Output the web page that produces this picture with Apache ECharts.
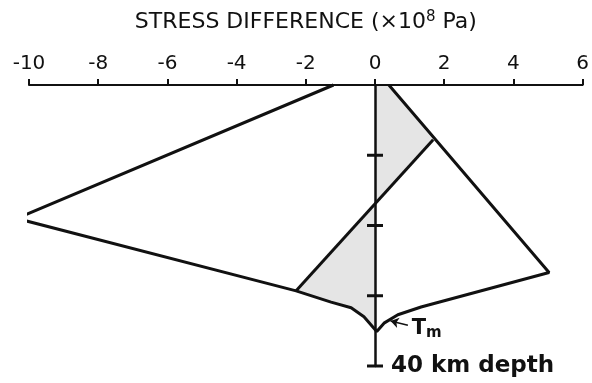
<!DOCTYPE html>
<html>
<head>
<meta charset="UTF-8">
<title>Stress difference vs depth</title>
<script src="https://cdn.jsdelivr.net/npm/echarts@6/dist/echarts.min.js"></script>
<style>
  html, body { margin: 0; padding: 0; background: #fff; }
  #main { width: 592px; height: 383px; }
</style>
</head>
<body>
<div id="main"></div>
<script>
// stress difference (x10^8 Pa) vs depth (km)
var envelope = [[-1.2, 0], [-10.35, 19], [-2.28, 29.3], [-1.27, 30.9], [-0.69, 31.7],
  [-0.32, 33.0], [0.05, 35.1], [0.26, 33.9], [0.66, 32.7], [1.33, 31.6], [5.03, 26.7], [0.4, 0]];
var faultLine = [[1.68, 7.8], [-2.28, 29.3]];
var shadedUpper = [[0, 0], [0.4, 0], [1.68, 7.8], [0, 16.9]];
var shadedLower = [[0, 16.9], [-2.28, 29.3], [-1.27, 30.9], [-0.69, 31.7], [-0.32, 33.0], [0.05, 35.1], [0, 35.1]];
var depthTicks = [10, 20, 30, 40];
var tmArrow = [[0.95, 34.2], [0.45, 33.6]];
var tmLabel = [[1.0, 34.6]];

var font = 'DejaVu Sans';
var ink = '#111';
var myChart = echarts.init(document.getElementById('main'));

function polygonItem(points) {
  return function (params, api) {
    var pts = points.map(function (p) { return api.coord(p); });
    return {
      type: 'polygon',
      shape: { points: pts },
      style: { fill: 'rgba(0,0,0,0.10)', stroke: 'none' }
    };
  };
}

var option = {
  animation: false,
  grid: { left: 29, right: 9, top: 85, bottom: 17 },
  xAxis: {
    type: 'value',
    position: 'top',
    min: -10, max: 6, interval: 2,
    name: 'STRESS DIFFERENCE (\u00d710{sup|8} Pa)',
    nameLocation: 'middle',
    nameGap: 50,
    nameTextStyle: {
      fontFamily: font, fontSize: 22, color: ink,
      rich: { sup: { fontFamily: font, fontSize: 15, verticalAlign: 'top', padding: [0, 0, 10, 0], color: ink } }
    },
    axisLine: { show: true, lineStyle: { color: ink, width: 2 } },
    axisTick: { show: true, length: 6, lineStyle: { color: ink, width: 2 } },
    axisLabel: { fontFamily: font, fontSize: 20, color: ink, margin: 11,
      formatter: function (v) { return v < 0 ? '-' + Math.abs(v) : String(v); } },
    splitLine: { show: false }
  },
  yAxis: {
    type: 'value',
    inverse: true,
    min: 0, max: 40,
    axisLine: { show: true, onZero: true, lineStyle: { color: ink, width: 2.5 } },
    axisTick: { show: false },
    axisLabel: { show: false },
    splitLine: { show: false }
  },
  series: [
    { type: 'custom', renderItem: polygonItem(shadedUpper), data: [0], silent: true, clip: false, z: 1 },
    { type: 'custom', renderItem: polygonItem(shadedLower), data: [0], silent: true, clip: false, z: 1 },
    {
      type: 'line', data: envelope, symbol: 'none', clip: false,
      lineStyle: { color: ink, width: 3 }, z: 3
    },
    {
      type: 'line', data: faultLine, symbol: 'none', clip: false,
      lineStyle: { color: ink, width: 3 }, z: 3
    },
    {
      type: 'scatter', data: depthTicks.map(function (d) { return [0, d]; }),
      symbol: 'rect', symbolSize: [16, 3], clip: false,
      itemStyle: { color: ink, opacity: 1 }, z: 4,
      label: {
        show: true, position: 'right', distance: 8, opacity: 1,
        fontFamily: font, fontSize: 23, fontWeight: 'bold', color: ink,
        formatter: function (p) { return p.value[1] === 40 ? '40 km depth' : ''; }
      }
    },
    {
      type: 'scatter', data: tmLabel, symbolSize: 0, clip: false,
      itemStyle: { opacity: 1 },
      label: {
        show: true, position: 'right', distance: 2, opacity: 1,
        formatter: 'T{sub|m}',
        fontFamily: font, fontSize: 21, fontWeight: 'bold', color: ink,
        rich: { sub: { fontFamily: font, fontSize: 15, fontWeight: 'bold', verticalAlign: 'bottom', padding: [10, 0, 0, 0], color: ink } }
      },
      markLine: {
        silent: true,
        symbol: ['none', 'arrow'], symbolSize: 8,
        label: { show: false },
        lineStyle: { color: ink, width: 1.5, type: 'solid', opacity: 1 },
        data: [[{ coord: tmArrow[0] }, { coord: tmArrow[1] }]]
      }
    }
  ]
};
myChart.setOption(option);
</script>
</body>
</html>
